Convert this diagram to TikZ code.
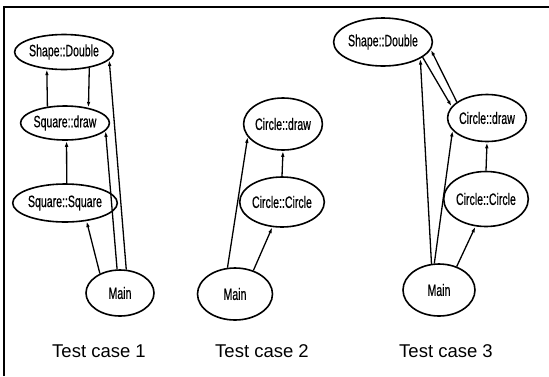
\documentclass[tikz,border=0pt]{standalone}
\usepackage{fontspec}
\setmainfont{Liberation Sans}
\newfontfamily\narrowsans[FakeStretch=0.64,FakeBold=0.5]{Liberation Sans}
\usepackage{tikz}
\usetikzlibrary{shapes.geometric,arrows.meta}

\begin{document}
\begin{tikzpicture}[x=1pt, y=-1pt,
    fn/.style={ellipse, draw, line width=1.6pt, inner sep=0pt,
      font=\narrowsans\fontsize{16.5}{18}\selectfont},
    call/.style={-{Latex[length=6pt,width=3.6pt]}, line width=1.3pt},
    caption/.style={font=\fontsize{18.5}{22}\selectfont}]
\useasboundingbox (0,0) rectangle (549,376);
\draw[line width=1.2pt] (4,376) -- (4,7) -- (549,7);

% Test case 1
\node[fn, minimum width=75pt, minimum height=35pt] (dbl1) at (64,52) {Shape::Double};
\node[fn, minimum width=77pt, minimum height=34pt] (sqd1) at (65,123) {Square::draw};
\node[fn, minimum width=80pt, minimum height=38pt] (sqs1) at (65,203) {Square::Square};
\node[fn, minimum width=68pt, minimum height=46pt] (main1) at (120,293) {Main};
\node[caption] (cap1) at (99,351) {Test case 1};
\draw[call] (sqd1.137) -- (dbl1.225);
\draw[call] (dbl1.328) -- (sqd1.33);
\draw[call] (sqs1.85) -- (sqd1.275);
\draw[call] (main1.136) -- (sqs1.320);
\draw[call] (main1.97) -- (sqd1.349);
\draw[call] (main1.75) -- (dbl1.350);

% Test case 2
\node[fn, minimum width=75pt, minimum height=52pt] (cdr2) at (283,124) {Circle::draw};
\node[fn, minimum width=73pt, minimum height=50pt] (ccl2) at (282,202) {Circle::Circle};
\node[fn, minimum width=75pt, minimum height=52pt] (main2) at (235,294) {Main};
\node[caption] (cap2) at (262,351) {Test case 2};
\draw[call] (ccl2.north) -- (cdr2.south);
\draw[call] (main2.106) -- (cdr2.200);
\draw[call] (main2.52) -- (ccl2.249);

% Test case 3
\node[fn, minimum width=72pt, minimum height=48pt] (dbl3) at (383,42) {Shape::Double};
\node[fn, minimum width=70pt, minimum height=47pt] (cdr3) at (487,118) {Circle::draw};
\node[fn, minimum width=78pt, minimum height=55pt] (ccl3) at (486,199) {Circle::Circle};
\node[fn, minimum width=72pt, minimum height=52pt] (main3) at (439,290) {Main};
\node[caption] (cap3) at (446,351) {Test case 3};
\draw[call] (cdr3.152) -- (dbl3.351);
\draw[call] (dbl3.339) -- (cdr3.162);
\draw[call] (main3.106) -- (dbl3.336);
\draw[call] (main3.100) -- (cdr3.200);
\draw[call] (ccl3.north) -- (cdr3.south);
\draw[call] (main3.53) -- (ccl3.249);
\end{tikzpicture}
\end{document}
